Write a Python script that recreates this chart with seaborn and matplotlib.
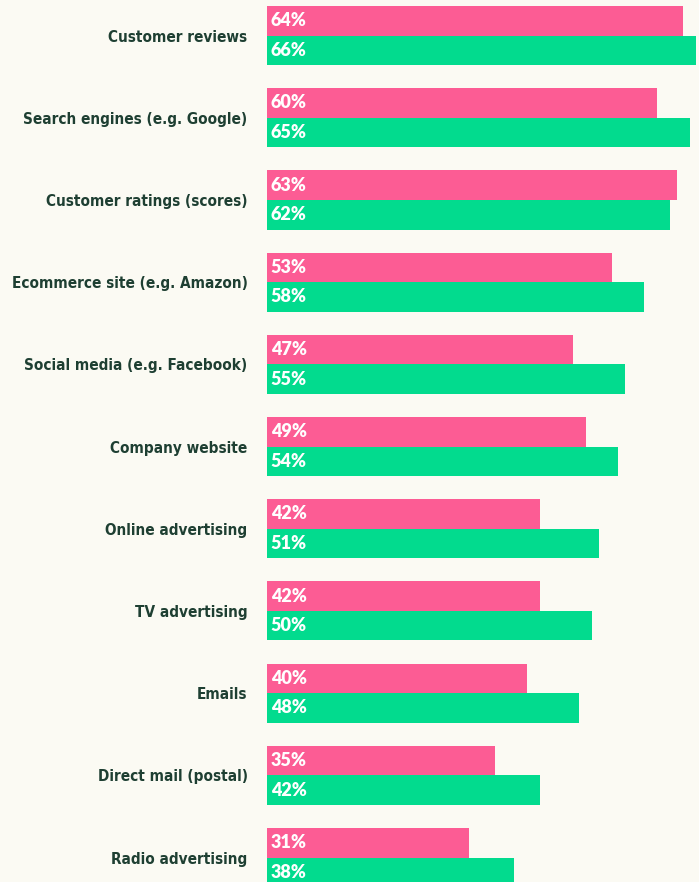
import pandas as pd
import matplotlib
matplotlib.use('Agg')
import matplotlib.pyplot as plt
import seaborn as sns

# Données
categories = [
    "Customer reviews",
    "Search engines (e.g. Google)",
    "Customer ratings (scores)",
    "Ecommerce site (e.g. Amazon)",
    "Social media (e.g. Facebook)",
    "Company website",
    "Online advertising",
    "TV advertising",
    "Emails",
    "Direct mail (postal)",
    "Radio advertising",
]
series_pink = [64, 60, 63, 53, 47, 49, 42, 42, 40, 35, 31]
series_green = [66, 65, 62, 58, 55, 54, 51, 50, 48, 42, 38]
series_names = ["A", "B"]

PINK = "#FC5C94"
GREEN = "#02DB8E"
BG = "#FBFAF3"
TEXT = "#1E3F32"

df = pd.DataFrame({
    "category": categories * 2,
    "value": series_pink + series_green,
    "series": [series_names[0]] * len(categories) + [series_names[1]] * len(categories),
})

sns.set_theme(style="white")
plt.rcParams['font.family'] = ['DejaVu Sans']

fig = plt.figure(figsize=(6.99, 8.82), dpi=100, facecolor=BG)
ax = fig.add_axes([267 / 699, 0, 1 - 267 / 699, 1])
ax.set_facecolor(BG)

sns.barplot(data=df, y="category", x="value", hue="series", orient="h",
            palette=[PINK, GREEN], width=0.72, dodge=True, saturation=1,
            linewidth=0, legend=False, ax=ax)

ax.set_xlim(0, 66.45)
ax.set_ylim(10.298, -0.432)

for cont in ax.containers:
    for bar in cont:
        w = bar.get_width()
        y = bar.get_y() + bar.get_height() / 2
        ax.annotate(f"{w:.0f}%", xy=(0, y), xytext=(2.6, 0), textcoords="offset points",
                    ha="left", va="center", color="white", fontsize=13,
                    fontweight="heavy", family=["Lato", "DejaVu Sans"])

ax.set_xlabel("")
ax.set_ylabel("")
ax.set_xticks([])
ax.tick_params(axis="y", length=0, pad=14)
for lab in ax.get_yticklabels():
    lab.set_fontsize(11)
    lab.set_fontweight("bold")
    lab.set_fontstretch("condensed")
    lab.set_color(TEXT)
for s in ax.spines.values():
    s.set_visible(False)

fig.savefig("out.png", dpi=100, facecolor=BG)
plt.close(fig)
